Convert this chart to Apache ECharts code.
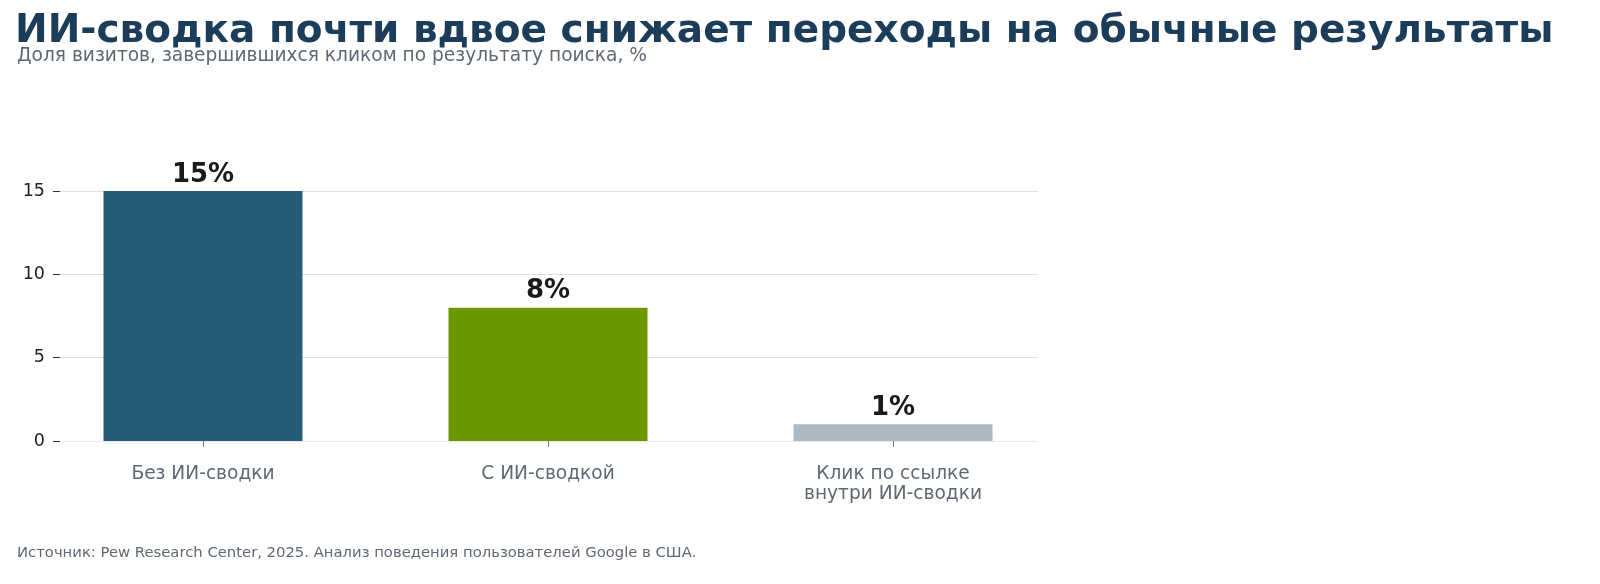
<!DOCTYPE html>
<html>
<head>
<meta charset="utf-8">
<script src="https://cdn.jsdelivr.net/npm/echarts@6/dist/echarts.min.js"></script>
<style>
  html, body { margin: 0; padding: 0; background: #fff; }
  #chart { width: 1600px; height: 584px; }
</style>
</head>
<body>
<div id="chart"></div>
<script>
// данные
const categories = ['Без ИИ-сводки', 'С ИИ-сводкой', 'Клик по ссылке\nвнутри ИИ-сводки'];
const values = [15, 8, 1];
const barColors = ['#265c7a', '#6b9700', '#adb9c2'];
const yTicks = [0, 5, 10, 15];

const font = 'DejaVu Sans';
const chart = echarts.init(document.getElementById('chart'));

// сетка 0 — столбцы (категории шире области осей, как в matplotlib),
// сетка 1 — ось Y, линии сетки и нулевая линия
chart.setOption({
    animation: false,
    textStyle: { fontFamily: font },
    title: [
        {
            text: 'ИИ-сводка почти вдвое снижает переходы на обычные результаты',
            left: 10, top: 7,
            textStyle: { fontFamily: font, fontSize: 39, fontWeight: 'bold', color: '#1b3d5a' }
        },
        {
            text: 'Доля визитов, завершившихся кликом по результату поиска, %',
            left: 12, top: 42,
            textStyle: { fontFamily: font, fontSize: 18.6, fontWeight: 'normal', color: '#5f6873' }
        },
        {
            text: 'Источник: Pew Research Center, 2025. Анализ поведения пользователей Google в США.',
            left: 12, top: 541,
            textStyle: { fontFamily: font, fontSize: 14.8, fontWeight: 'normal', color: '#5f6873' }
        }
    ],
    grid: [
        { left: 30.5, width: 1035, top: 191, bottom: 143 },
        { left: 60, width: 978, top: 191, bottom: 143 }
    ],
    xAxis: [
        {
            type: 'category',
            gridIndex: 0,
            data: categories,
            axisLine: { show: false },
            axisTick: { show: true, alignWithLabel: true, length: 6, lineStyle: { color: '#6b7785' } },
            axisLabel: { fontFamily: font, fontSize: 18.6, color: '#5f6873', margin: 23, lineHeight: 20 }
        },
        {
            type: 'value',
            gridIndex: 1,
            min: 0, max: 1,
            axisLine: { show: true, onZero: false, lineStyle: { color: '#e6ebf0', width: 1 } },
            axisTick: { show: false },
            axisLabel: { show: false },
            splitLine: { show: false }
        }
    ],
    yAxis: [
        {
            type: 'value',
            gridIndex: 0,
            min: yTicks[0],
            max: yTicks[yTicks.length - 1],
            show: false,
            splitLine: { show: false }
        },
        {
            type: 'value',
            gridIndex: 1,
            min: yTicks[0],
            max: yTicks[yTicks.length - 1],
            interval: 5,
            axisLine: { show: false },
            axisTick: { show: true, length: 7, lineStyle: { color: '#333' } },
            axisLabel: { fontFamily: font, fontSize: 17.5, color: '#222', margin: 15 },
            splitLine: { show: true, lineStyle: { color: '#d9e0e7', width: 1 } }
        }
    ],
    series: [{
        type: 'bar',
        xAxisIndex: 0,
        yAxisIndex: 0,
        barWidth: 199,
        data: values.map((v, i) => ({ value: v, itemStyle: { color: barColors[i] } })),
        label: {
            show: true,
            position: 'top',
            distance: 3,
            formatter: p => p.value + '%',
            fontFamily: font,
            fontSize: 26,
            fontWeight: 'bold',
            color: '#1a1a1a'
        }
    }]
});
</script>
</body>
</html>
